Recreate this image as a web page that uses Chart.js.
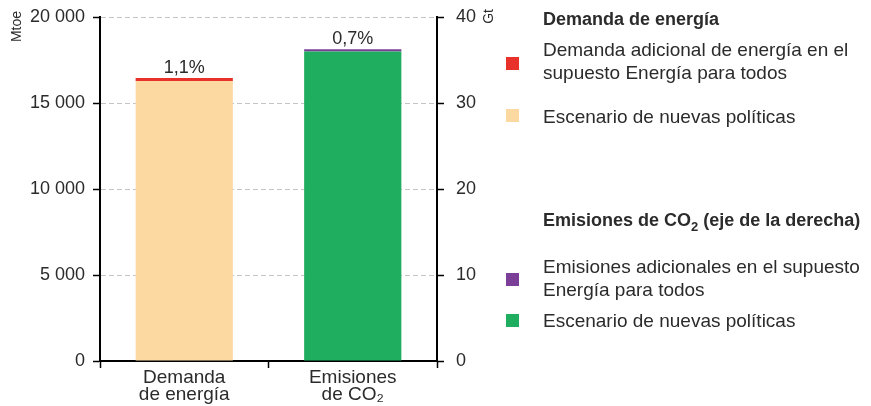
<!DOCTYPE html>
<html>
<head>
<meta charset="utf-8">
<script src="https://cdn.jsdelivr.net/npm/chart.js@4"></script>
<style>
  html, body { margin: 0; padding: 0; background: #fff; }
  #wrap { position: relative; width: 871px; height: 406px; font-family: "Liberation Sans", Arial, sans-serif; color: #2b2b2b; }
  #myChart { position: absolute; left: 0; top: 0; }
  .lg { position: absolute; left: 543px; font-size: 19px; line-height: 23px; white-space: nowrap; }
  .lg.head { font-weight: bold; font-size: 18px; }
  .sw { position: absolute; left: 506px; width: 13px; height: 13px; }
</style>
</head>
<body>
<div id="wrap">
  <canvas id="myChart" width="871" height="406"></canvas>
  <div class="lg head" style="top:8px">Demanda de energía</div>
  <div class="sw" style="top:57px;background:#e8312a"></div>
  <div class="lg" style="top:38px">Demanda adicional de energía en el<br>supuesto Energía para todos</div>
  <div class="sw" style="top:109px;background:#fdd9a2"></div>
  <div class="lg" style="top:105px">Escenario de nuevas políticas</div>
  <div class="lg head" style="top:209px">Emisiones de CO<sub style="font-size:13px">2</sub> (eje de la derecha)</div>
  <div class="sw" style="top:273px;background:#7b3f98"></div>
  <div class="lg" style="top:255px">Emisiones adicionales en el supuesto<br>Energía para todos</div>
  <div class="sw" style="top:314px;background:#1fad60"></div>
  <div class="lg" style="top:309px">Escenario de nuevas políticas</div>
</div>
<script>
const categories = [["Demanda", "de energía"], ["Emisiones", "de CO₂"]];
// Mtoe, left axis
const demandNPS = [16280, null];
const demandExtra = [180, null];
// Gt, right axis
const co2NPS = [null, 36.0];
const co2Extra = [null, 0.25];
const pctLabels = ["1,1%", "0,7%"];
const leftTicks = [0, 5000, 10000, 15000, 20000];
const rightTicks = [0, 10, 20, 30, 40];

const fmt = (v) => String(v).replace(/\B(?=(\d{3})+(?!\d))/g, " ");

const barLabels = {
  id: "barLabels",
  afterDatasetsDraw(chart) {
    const ctx = chart.ctx;
    ctx.save();
    ctx.font = "18px 'Liberation Sans', Arial, sans-serif";
    ctx.fillStyle = "#2b2b2b";
    ctx.textAlign = "center";
    ctx.textBaseline = "bottom";
    categories.forEach((c, i) => {
      let top = null, x = null;
      chart.data.datasets.forEach((ds, d) => {
        const el = chart.getDatasetMeta(d).data[i];
        if (ds.data[i] == null || !el) return;
        if (top === null || el.y < top) { top = el.y; x = el.x; }
      });
      if (top !== null) ctx.fillText(pctLabels[i], x, top - 1);
    });
    // axis units
    ctx.font = "14px 'Liberation Sans', Arial, sans-serif";
    ctx.textAlign = "right";
    ctx.textBaseline = "middle";
    ctx.translate(17, 11);
    ctx.rotate(-Math.PI / 2);
    ctx.fillText("Mtoe", 0, 0);
    ctx.rotate(Math.PI / 2);
    ctx.translate(-17, -11);
    ctx.translate(489, 9);
    ctx.rotate(-Math.PI / 2);
    ctx.fillText("Gt", 0, 0);
    ctx.restore();
  }
};

const tickFont = { family: "'Liberation Sans', Arial, sans-serif", size: 18 };

new Chart(document.getElementById("myChart"), {
  type: "bar",
  data: {
    labels: categories,
    datasets: [
      { label: "Escenario de nuevas políticas", data: demandNPS, backgroundColor: "#fdd9a2", yAxisID: "y" },
      { label: "Demanda adicional", data: demandExtra, backgroundColor: "#e8312a", yAxisID: "y" },
      { label: "Escenario de nuevas políticas CO2", data: co2NPS, backgroundColor: "#1fad60", yAxisID: "y2" },
      { label: "Emisiones adicionales", data: co2Extra, backgroundColor: "#7b3f98", yAxisID: "y2" },
    ],
  },
  options: {
    responsive: false,
    animation: false,
    events: [],
    categoryPercentage: 0.577,
    barPercentage: 1,
    layout: { padding: { top: 17, right: 374, left: 0, bottom: 0 } },
    plugins: { legend: { display: false }, tooltip: { enabled: false } },
    scales: {
      x: {
        stacked: true,
        afterFit: (s) => { s.height = 45; s.paddingLeft = 0; s.paddingRight = 0; },
        grid: { drawOnChartArea: false, tickLength: 7, tickColor: "#000", tickWidth: 1.5, offset: true },
        border: { color: "#000", width: 2 },
        ticks: { color: "#2b2b2b", font: { family: "'Liberation Sans', Arial, sans-serif", size: 19, lineHeight: 0.92 }, padding: 1, maxRotation: 0 },
      },
      y: {
        stacked: true,
        min: 0,
        max: 20000,
        afterFit: (s) => { s.width = 100; s.paddingTop = 0; s.paddingBottom = 0; },
        afterBuildTicks: (s) => { s.ticks = leftTicks.map((v) => ({ value: v })); },
        grid: { color: "#c4c4c4", lineWidth: 1, tickColor: "#000", tickLength: 7, tickWidth: 1.5, tickBorderDash: [] },
        border: { color: "#000", width: 2, dash: [5, 3] },
        ticks: { color: "#2b2b2b", font: tickFont, padding: 8, callback: (v) => fmt(v) },
      },
      y2: {
        stacked: true,
        position: "right",
        min: 0,
        max: 40,
        afterFit: (s) => { s.width = 60; s.paddingTop = 0; s.paddingBottom = 0; },
        afterBuildTicks: (s) => { s.ticks = rightTicks.map((v) => ({ value: v })); },
        grid: { drawOnChartArea: false, tickColor: "#000", tickLength: 7, tickWidth: 1.5 },
        border: { color: "#000", width: 2 },
        ticks: { color: "#2b2b2b", font: tickFont, padding: 12 },
      },
    },
  },
  plugins: [barLabels],
});
</script>
</body>
</html>
